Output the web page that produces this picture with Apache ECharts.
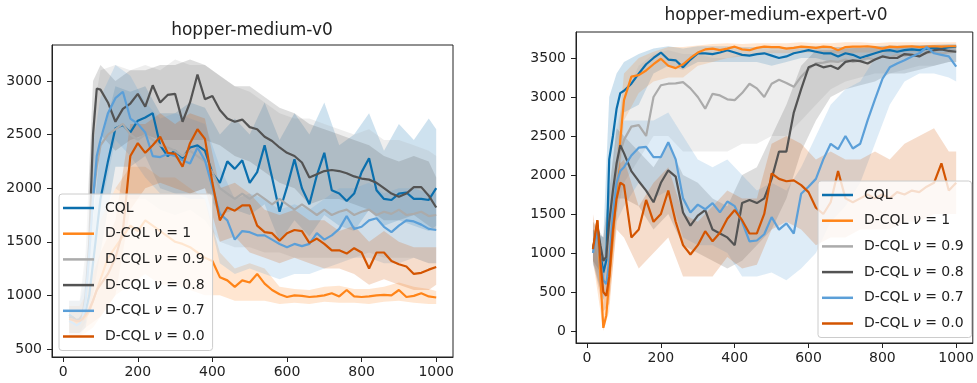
<!DOCTYPE html>
<html>
<head>
<meta charset="utf-8">
<script src="https://cdn.jsdelivr.net/npm/echarts@6/dist/echarts.min.js"></script>
<style>
  html, body { margin: 0; padding: 0; background: #fff; }
  #chart { width: 977px; height: 383px; }
</style>
</head>
<body>
<div id="chart"></div>
<script>
// training steps (x) for the mean curves and for the shaded bands
const steps = [16, 28, 36, 44, 52, 60, 70, 80, 90, 100, 120, 140, 160, 180, 200, 220, 240, 260, 280, 300,
  320, 340, 360, 380, 400, 420, 440, 460, 480, 500, 520, 540, 560, 580, 600, 620, 640, 660, 680, 700,
  720, 740, 760, 780, 800, 820, 840, 860, 880, 900, 920, 940, 960, 980, 1000];
const bandSteps = [16, 44, 60, 80, 100, 140, 180, 220, 260, 300, 340, 380, 420, 460, 500, 540, 580, 620,
  660, 700, 740, 780, 820, 860, 900, 940, 980, 1000];

const seriesNames = ["CQL", "D-CQL ν = 1", "D-CQL ν = 0.9", "D-CQL ν = 0.8", "D-CQL ν = 0.7", "D-CQL ν = 0.0"];
const colors = ["#0b6fad", "#ff8418", "#ababab", "#535353", "#5b9fd8", "#d35400"];
const xTicks = [0, 200, 400, 600, 800, 1000];
const mediumTicks = [500, 1000, 1500, 2000, 2500, 3000];
const expertTicks = [0, 500, 1000, 1500, 2000, 2500, 3000, 3500];

// ---- hopper-medium-v0 ----
const medCQL = [820, 790, 760, 770, 800, 850, 1000, 1300, 1600, 1900,
  2250, 2560, 2590, 2520, 2630, 2660, 2700, 2400, 2300, 2350, 2280, 2380, 2400, 2350, 2140, 2050, 2250, 2180, 2260, 2050,
  2150, 2400, 2100, 1780, 2010, 2270, 2000, 1850, 2120, 2330, 1980, 1950, 1880, 1950, 2150, 2280, 1980, 1900, 1890, 1950,
  1960, 1900, 1900, 1890, 2000];
const medNu1 = [780, 760, 740, 750, 770, 800, 850, 950, 1050, 1150,
  1350, 1450, 1550, 1650, 1600, 1700, 1650, 1600, 1550, 1500, 1480, 1450, 1400, 1350, 1320, 1170, 1140, 1080, 1140, 1120,
  1200, 1110, 1050, 1010, 985, 1000, 995, 985, 990, 1000, 1020, 990, 1050, 990, 985, 990, 1000, 1005, 1000, 1050,
  985, 995, 1020, 990, 980];
const medNu09 = [800, 780, 760, 780, 820, 950, 1400, 1900, 2200, 2400,
  2500, 2550, 2600, 2500, 2450, 2500, 2450, 2400, 2380, 2350, 2300, 2350, 2300, 2250, 2150, 2000, 1950, 1900, 1950, 1900,
  1950, 1900, 1850, 1900, 1850, 1800, 1850, 1800, 1750, 1800, 1750, 1780, 1800, 1750, 1780, 1800, 1750, 1780, 1760, 1800,
  1750, 1760, 1780, 1740, 1750];
const medNu08 = [800, 790, 770, 780, 820, 1000, 1500, 2500, 2930, 2920,
  2800, 2620, 2740, 2790, 2880, 2760, 2960, 2800, 2870, 2880, 2620, 2800, 3060, 2830, 2860, 2730, 2650, 2620, 2640, 2570,
  2550, 2480, 2440, 2380, 2330, 2300, 2240, 2100, 2130, 2160, 2170, 2160, 2140, 2110, 2090, 2080, 2050, 2000, 1950, 1920,
  1950, 2010, 2010, 1930, 1820];
const medNu07 = [760, 740, 720, 740, 780, 950, 1400, 1900, 2300, 2450,
  2700, 2840, 2900, 2650, 2600, 2520, 2300, 2290, 2320, 2300, 2260, 2230, 2380, 2260, 2010, 1760, 1700, 1520, 1600, 1590,
  1560, 1560, 1520, 1480, 1450, 1480, 1460, 1480, 1580, 1520, 1560, 1620, 1740, 1620, 1640, 1700, 1720, 1640, 1590, 1650,
  1700, 1690, 1660, 1620, 1610];
const medNu00 = [780, 770, 760, 760, 780, 820, 870, 950, 1050, 1100,
  1200, 1350, 1600, 2300, 2420, 2330, 2400, 2480, 2330, 2320, 2200, 2420, 2550, 2460, 2050, 1700, 1820, 1790, 1840, 1840,
  1650, 1590, 1580, 1510, 1580, 1610, 1600, 1490, 1530, 1480, 1420, 1420, 1390, 1440, 1400, 1250, 1400, 1400, 1320, 1290,
  1270, 1200, 1210, 1240, 1265];

const medCQLLo = [650, 650, 700, 1000, 1400, 2200, 2200, 2300, 2000, 1950, 1950, 2000, 1750, 1800, 1750, 1850, 1500, 1700, 1550, 1750, 1650, 1600, 1800, 1650, 1700, 1650, 1600, 1650];
const medCQLHi = [950, 950, 1100, 1700, 2400, 2950, 2900, 2950, 2700, 2700, 2800, 2750, 2500, 2650, 2500, 2800, 2450, 2700, 2500, 2800, 2400, 2500, 2700, 2350, 2600, 2450, 2650, 2550];
const medNu1Lo = [620, 620, 650, 700, 800, 1000, 1100, 1200, 1100, 1100, 1050, 1000, 1000, 950, 950, 950, 920, 930, 920, 940, 930, 930, 920, 940, 950, 930, 920, 920];
const medNu1Hi = [900, 900, 1000, 1300, 1700, 2000, 2200, 2200, 2100, 2100, 2000, 1900, 1400, 1250, 1300, 1250, 1080, 1060, 1050, 1080, 1090, 1060, 1060, 1080, 1120, 1080, 1060, 1040];
const medNu09Lo = [650, 650, 700, 1300, 1700, 2000, 1900, 1900, 1800, 1750, 1800, 1700, 1500, 1450, 1450, 1400, 1400, 1350, 1350, 1350, 1350, 1350, 1400, 1350, 1350, 1350, 1300, 1300];
const medNu09Hi = [950, 950, 1400, 2700, 3100, 3150, 3100, 3150, 3100, 3200, 3150, 3150, 3050, 2950, 2900, 2800, 2700, 2650, 2650, 2600, 2550, 2500, 2550, 2450, 2450, 2400, 2350, 2300];
const medNu08Lo = [650, 650, 750, 2000, 2500, 2350, 2450, 2500, 2450, 2450, 2450, 2450, 2400, 2300, 2250, 2150, 2050, 2000, 1850, 1900, 1900, 1850, 1800, 1700, 1700, 1750, 1650, 1600];
const medNu08Hi = [950, 950, 1400, 3000, 3150, 3000, 3100, 3100, 3150, 3150, 3200, 3150, 3050, 2950, 2950, 2850, 2750, 2700, 2600, 2550, 2500, 2450, 2400, 2300, 2250, 2300, 2250, 2100];
const medNu07Lo = [620, 620, 700, 1400, 1800, 2450, 2300, 2100, 1950, 1950, 1900, 1900, 1300, 1200, 1250, 1200, 1150, 1200, 1200, 1250, 1300, 1350, 1350, 1300, 1300, 1350, 1300, 1300];
const medNu07Hi = [900, 900, 1300, 2400, 2850, 3150, 3050, 2800, 2650, 2700, 2650, 2600, 2200, 1900, 1950, 1900, 1800, 1850, 1800, 1900, 2000, 2000, 2050, 1950, 2000, 2000, 1950, 1950];
const medNu00Lo = [650, 650, 700, 750, 800, 1000, 1800, 2000, 2050, 2000, 1950, 2000, 1500, 1550, 1400, 1350, 1300, 1350, 1300, 1250, 1250, 1200, 1100, 1150, 1100, 1050, 1050, 1100];
const medNu00Hi = [900, 900, 1000, 1200, 1400, 1700, 2600, 2600, 2700, 2600, 2700, 2650, 2000, 2050, 1950, 1800, 1750, 1800, 1700, 1700, 1600, 1650, 1500, 1600, 1500, 1450, 1450, 1450];

// ---- hopper-medium-expert-v0 ----
const expCQL = [1050, 1350, 1000, 750, 900, 2200, 2500, 2850, 3050, 3080,
  3170, 3300, 3420, 3500, 3570, 3480, 3470, 3380, 3480, 3560, 3560, 3550, 3570, 3600, 3570, 3540, 3530, 3550, 3560, 3530,
  3500, 3520, 3560, 3580, 3600, 3580, 3560, 3560, 3520, 3560, 3540, 3500, 3530, 3560, 3590, 3600, 3580, 3600, 3610, 3600,
  3620, 3630, 3620, 3640, 3645];
const expNu1 = [1050, 1420, 700, 40, 200, 650, 1200, 1800, 2450, 2960,
  3260, 3280, 3340, 3420, 3490, 3400, 3370, 3420, 3500, 3570, 3610, 3620, 3600, 3620, 3645, 3610, 3600, 3630, 3645, 3640,
  3640, 3620, 3630, 3645, 3640, 3630, 3645, 3640, 3600, 3640, 3645, 3645, 3650, 3640, 3620, 3645, 3640, 3645, 3650, 3640,
  3645, 3650, 3645, 3650, 3650];
const expNu09 = [1000, 1300, 1100, 900, 950, 1300, 1700, 2000, 2300, 2450,
  2620, 2640, 2500, 3000, 3150, 3170, 3175, 3190, 3110, 3000, 2850, 3040, 3020, 2970, 2960, 3050, 3170, 3110, 3000, 3170,
  3220, 3180, 3130, 3260, 3360, 3430, 3440, 3460, 3450, 3480, 3450, 3470, 3500, 3480, 3520, 3510, 3540, 3530, 3550, 3540,
  3560, 3580, 3560, 3570, 3580];
const expNu08 = [1050, 1350, 1100, 900, 950, 1400, 1800, 2150, 2380, 2280,
  2050, 1920, 1800, 1650, 1900, 2060, 1980, 1520, 1350, 1480, 1550, 1300, 1250, 1200, 1100, 1640, 1680, 1640, 1700, 1950,
  2300, 2300, 2800, 3100, 3380, 3420, 3380, 3400, 3360, 3450, 3470, 3460, 3430, 3480, 3520, 3500, 3500, 3550, 3540, 3520,
  3570, 3600, 3610, 3590, 3580];
const expNu07 = [1000, 1300, 900, 650, 600, 900, 1500, 1900, 2050, 2100,
  2250, 2350, 2360, 2230, 2230, 2420, 2200, 1700, 1520, 1620, 1560, 1640, 1520, 1660, 1600, 1400, 1150, 1160, 1240, 1460,
  1300, 1380, 1250, 1760, 1850, 1950, 2200, 2400, 2330, 2500, 2340, 2400, 2700, 2970, 3230, 3380, 3430, 3470, 3520, 3560,
  3640, 3560, 3540, 3520, 3390];
const expNu00 = [1050, 1420, 900, 500, 450, 700, 1300, 1700, 1900, 1870,
  1200, 1300, 1680, 1400, 1500, 1800, 1400, 1100, 980, 1100, 1280, 1150, 1260, 1440, 1550, 1420, 1250, 1250, 1500, 2020,
  1950, 1920, 1930, 1870, 1780, 1580, 1500, 1650, 2050, 1700, 1650, 1700, 1750, 1700, 1750, 1700, 1780, 1750, 1800, 1780,
  1850, 1900, 2150, 1800, 1900];

const expCQLLo = [900, 400, 1300, 2400, 2800, 2900, 3300, 3400, 3350, 3450, 3450, 3450, 3450, 3450, 3400, 3450, 3500, 3500, 3450, 3450, 3450, 3500, 3520, 3540, 3550, 3560, 3580, 3590];
const expCQLHi = [1300, 1200, 3000, 3300, 3450, 3550, 3620, 3650, 3620, 3650, 3650, 3650, 3640, 3640, 3640, 3640, 3650, 3650, 3640, 3640, 3630, 3650, 3660, 3660, 3660, 3670, 3680, 3680];
const expNu1Lo = [900, 0, 250, 1400, 2700, 3050, 3200, 3250, 3250, 3400, 3450, 3500, 3520, 3540, 3560, 3560, 3570, 3570, 3560, 3560, 3570, 3570, 3570, 3580, 3580, 3590, 3590, 3590];
const expNu1Hi = [1400, 350, 1300, 2300, 3300, 3500, 3580, 3640, 3640, 3660, 3680, 3690, 3680, 3690, 3690, 3690, 3700, 3690, 3690, 3700, 3700, 3690, 3700, 3700, 3700, 3700, 3700, 3700];
const expNu09Lo = [850, 650, 900, 1500, 1900, 2200, 2500, 2500, 2300, 2300, 2300, 2300, 2400, 2400, 2500, 2500, 2700, 2900, 3100, 3200, 3250, 3300, 3300, 3350, 3400, 3400, 3450, 3450];
const expNu09Hi = [1300, 1200, 1800, 2600, 3000, 3400, 3550, 3600, 3550, 3550, 3500, 3500, 3550, 3550, 3600, 3600, 3620, 3640, 3640, 3640, 3650, 3650, 3650, 3660, 3660, 3660, 3660, 3660];
const expNu08Lo = [900, 700, 1000, 1700, 1700, 1600, 1300, 1500, 1100, 1000, 900, 800, 900, 1100, 1300, 1700, 2300, 2700, 3000, 3100, 3150, 3200, 3300, 3300, 3350, 3400, 3450, 3450];
const expNu08Hi = [1400, 1200, 1800, 2600, 2500, 2300, 2100, 2400, 2000, 1900, 1700, 1600, 2000, 2100, 2500, 2900, 3400, 3600, 3600, 3620, 3630, 3640, 3650, 3650, 3660, 3660, 3660, 3660];
const expNu07Lo = [850, 400, 600, 1400, 1600, 1900, 1700, 1800, 1200, 1100, 1100, 1000, 700, 700, 750, 650, 800, 1000, 1400, 1600, 1900, 2400, 2900, 3200, 3300, 3300, 3250, 3200];
const expNu07Hi = [1300, 900, 1300, 2400, 2700, 2700, 2700, 2800, 2500, 2200, 2100, 2200, 2000, 1800, 1900, 1800, 2100, 2500, 2900, 3100, 3200, 3500, 3600, 3650, 3660, 3660, 3660, 3600];
const expNu00Lo = [900, 250, 350, 1300, 1200, 800, 1000, 1200, 700, 700, 700, 950, 800, 850, 1300, 1400, 1300, 1100, 1200, 1200, 1300, 1300, 1300, 1400, 1400, 1500, 1500, 1500];
const expNu00Hi = [1500, 700, 1100, 2100, 2200, 1600, 1900, 2100, 1500, 1400, 1600, 1800, 1700, 1700, 2400, 2500, 2400, 2200, 2300, 2200, 2200, 2300, 2200, 2400, 2500, 2600, 2300, 2300];

const mediumMeans = [medCQL, medNu1, medNu09, medNu08, medNu07, medNu00];
const mediumBands = [[medCQLLo, medCQLHi], [medNu1Lo, medNu1Hi], [medNu09Lo, medNu09Hi],
  [medNu08Lo, medNu08Hi], [medNu07Lo, medNu07Hi], [medNu00Lo, medNu00Hi]];
const expertMeans = [expCQL, expNu1, expNu09, expNu08, expNu07, expNu00];
const expertBands = [[expCQLLo, expCQLHi], [expNu1Lo, expNu1Hi], [expNu09Lo, expNu09Hi],
  [expNu08Lo, expNu08Hi], [expNu07Lo, expNu07Hi], [expNu00Lo, expNu00Hi]];

const FONT = '"DejaVu Sans", sans-serif';
const TEXT = "#222";

function lineSeries(name, color, idx, values) {
  return {
    type: "line", name, xAxisIndex: idx, yAxisIndex: idx,
    data: steps.map((x, i) => [x, values[i]]),
    showSymbol: false, symbol: "none",
    lineStyle: { color, width: 2.2 },
    itemStyle: { color },
    z: 2,
  };
}

function bandSeries(name, color, idx, lo, hi) {
  return {
    type: "custom", name: name + " band", xAxisIndex: idx, yAxisIndex: idx,
    silent: true, clip: true, z: 2,
    data: bandSteps.map((x, i) => [x, lo[i], hi[i]]),
    renderItem(params, api) {
      if (params.dataIndex !== 0) return;
      const upper = bandSteps.map((x, i) => api.coord([x, hi[i]]));
      const lower = bandSteps.map((x, i) => api.coord([x, lo[i]])).reverse();
      return {
        type: "polygon",
        shape: { points: upper.concat(lower) },
        style: { fill: color, opacity: 0.2 },
      };
    },
  };
}

const plainNumber = (v) => String(v);

function axisX(idx) {
  return {
    type: "value", gridIndex: idx, min: -30, max: 1045,
    splitLine: { show: false },
    axisLine: { show: true, onZero: false, lineStyle: { color: TEXT, width: 1 } },
    axisTick: { show: true, length: 5, customValues: xTicks, lineStyle: { color: TEXT } },
    axisLabel: { customValues: xTicks, formatter: plainNumber, color: TEXT, fontFamily: FONT, fontSize: 14, margin: 8 },
  };
}

function axisY(idx, min, max, ticks) {
  return {
    type: "value", gridIndex: idx, min, max,
    splitLine: { show: false },
    axisLine: { show: true, onZero: false, lineStyle: { color: TEXT, width: 1 } },
    axisTick: { show: true, length: 5, customValues: ticks, lineStyle: { color: TEXT } },
    axisLabel: { customValues: ticks, formatter: plainNumber, color: TEXT, fontFamily: FONT, fontSize: 14, margin: 10 },
  };
}

function legendAt(left, top) {
  return {
    data: seriesNames, orient: "vertical", left, top,
    icon: "rect", itemWidth: 31, itemHeight: 2.5, itemGap: 11.7,
    padding: [7, 8, 7, 4],
    backgroundColor: "rgba(255,255,255,0.8)",
    borderColor: "#cccccc", borderWidth: 1, borderRadius: 3,
    selectedMode: false,
    formatter: (name) => {
      const m = name.match(/^D-CQL ν = (.*)$/);
      return m ? `{t|D-CQL }{n|ν}{t| = ${m[1]}}` : `{t|${name}}`;
    },
    textStyle: {
      color: TEXT, fontFamily: FONT, fontSize: 14, padding: [0, 0, 0, 6],
      rich: {
        t: { color: TEXT, fontFamily: FONT, fontSize: 14, lineHeight: 16 },
        n: { color: TEXT, fontFamily: FONT, fontSize: 14, lineHeight: 16, fontStyle: "italic" },
      },
    },
  };
}

const series = [];
seriesNames.forEach((name, i) => {
  series.push(lineSeries(name, colors[i], 0, mediumMeans[i]));
  series.push(bandSeries(name, colors[i], 0, mediumBands[i][0], mediumBands[i][1]));
});
seriesNames.forEach((name, i) => {
  series.push(lineSeries(name, colors[i], 1, expertMeans[i]));
  series.push(bandSeries(name, colors[i], 1, expertBands[i][0], expertBands[i][1]));
});

const chart = echarts.init(document.getElementById("chart"), null, { renderer: "canvas" });
chart.setOption({
  animation: false,
  backgroundColor: "#ffffff",
  title: [
    { text: "hopper-medium-v0", left: 252, top: 22, textAlign: "center", padding: 0,
      textStyle: { fontFamily: FONT, fontSize: 17, fontWeight: "normal", color: TEXT } },
    { text: "hopper-medium-expert-v0", left: 776, top: 7, textAlign: "center", padding: 0,
      textStyle: { fontFamily: FONT, fontSize: 17, fontWeight: "normal", color: TEXT } },
  ],
  grid: [
    { left: 52, top: 45, width: 401, height: 312, show: true, borderColor: TEXT, borderWidth: 1, backgroundColor: "transparent" },
    { left: 576, top: 32, width: 400, height: 311, show: true, borderColor: TEXT, borderWidth: 1, backgroundColor: "transparent" },
  ],
  xAxis: [axisX(0), axisX(1)],
  yAxis: [axisY(0, 425, 3336, mediumTicks), axisY(1, -154, 3833, expertTicks)],
  legend: [legendAt(59, 194), legendAt(818, 181)],
  series,
});
</script>
</body>
</html>
